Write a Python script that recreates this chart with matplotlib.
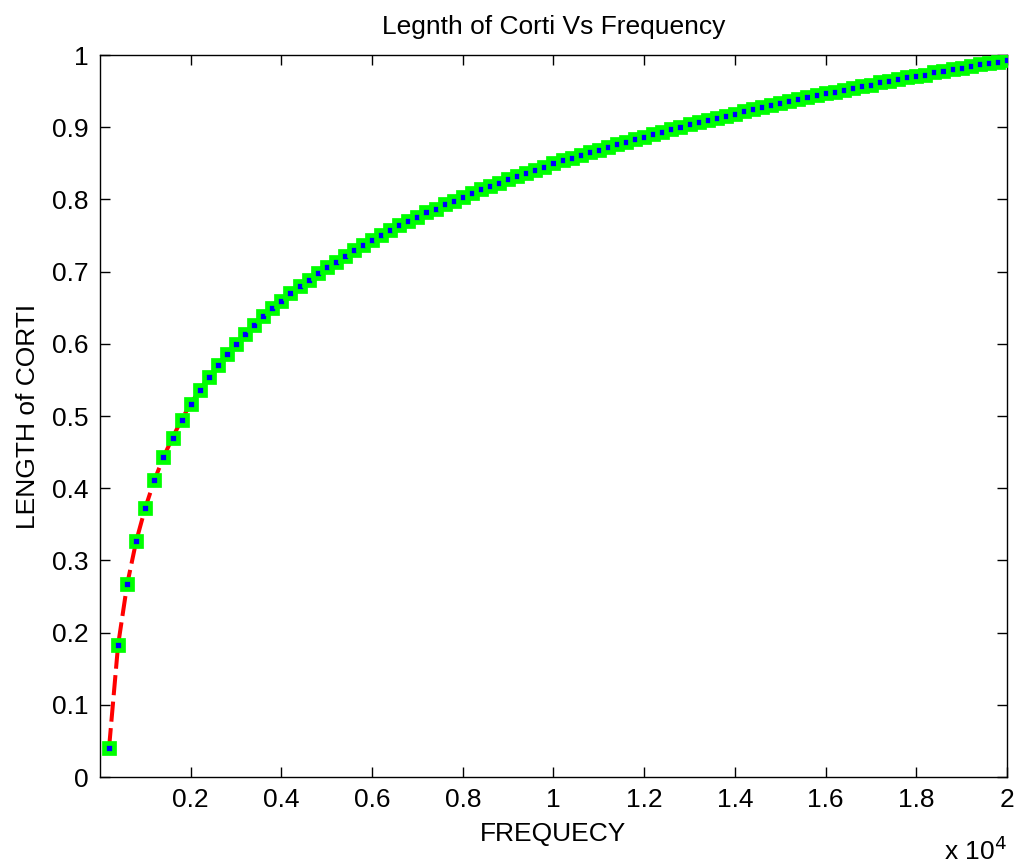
import matplotlib
matplotlib.use('Agg')
import matplotlib.pyplot as plt

# frequency samples (Hz) and length of corti
freq = list(range(200, 20001, 200))
length = [
    0.040, 0.183, 0.267, 0.327, 0.373, 0.411, 0.443, 0.470, 0.495, 0.517,
    0.536, 0.554, 0.571, 0.586, 0.600, 0.614, 0.626, 0.638, 0.649, 0.660,
    0.670, 0.680, 0.689, 0.698, 0.706, 0.714, 0.722, 0.730, 0.737, 0.744,
    0.751, 0.757, 0.764, 0.770, 0.776, 0.782, 0.787, 0.793, 0.798, 0.803,
    0.809, 0.814, 0.818, 0.823, 0.828, 0.832, 0.837, 0.841, 0.845, 0.850,
    0.854, 0.858, 0.862, 0.866, 0.869, 0.873, 0.877, 0.880, 0.884, 0.887,
    0.891, 0.894, 0.897, 0.901, 0.904, 0.907, 0.910, 0.913, 0.916, 0.919,
    0.922, 0.925, 0.928, 0.931, 0.934, 0.936, 0.939, 0.942, 0.944, 0.947,
    0.949, 0.952, 0.954, 0.957, 0.959, 0.962, 0.964, 0.967, 0.969, 0.971,
    0.973, 0.976, 0.978, 0.980, 0.982, 0.985, 0.987, 0.989, 0.991, 0.993,
]

xticks = [2000, 4000, 6000, 8000, 10000, 12000, 14000, 16000, 18000, 20000]
xticklabels = ['0.2', '0.4', '0.6', '0.8', '1', '1.2', '1.4', '1.6', '1.8', '2']
yticks = [0, 0.1, 0.2, 0.3, 0.4, 0.5, 0.6, 0.7, 0.8, 0.9, 1]
yticklabels = ['0', '0.1', '0.2', '0.3', '0.4', '0.5', '0.6', '0.7', '0.8', '0.9', '1']

plt.rc('font', family=['Liberation Sans', 'DejaVu Sans'])
plt.rc('axes', linewidth=1.0)

fig = plt.figure(figsize=(10.19, 8.68), dpi=100)
ax = fig.add_axes([0.0981, 0.1048, 0.8901, 0.8318])

ax.plot(freq, length, color='red', linestyle='--', linewidth=2.9, dashes=(5, 1.6), zorder=2)
ax.plot(freq, length, linestyle='none', marker='s', markersize=6.8,
        markerfacecolor='blue', markeredgecolor='#00ff00', markeredgewidth=3.4, zorder=3)

ax.set_xlim(0, 20000)
ax.set_ylim(0, 1)
ax.set_xticks(xticks)
ax.set_xticklabels(xticklabels)
ax.set_yticks(yticks)
ax.set_yticklabels(yticklabels)
ax.tick_params(direction='in', top=True, right=True, length=7, width=1,
               labelsize=19, pad=8)

ax.set_title('Legnth of Corti Vs Frequency', fontsize=19, pad=15)
ax.set_xlabel('FREQUECY', fontsize=19, labelpad=7)
ax.set_ylabel('LENGTH of CORTI', fontsize=19, labelpad=9)
ax.text(1.0, -0.083, r'x 10$^{4}$', transform=ax.transAxes, fontsize=19,
        ha='right', va='top')

fig.savefig('out.png', dpi=100)
